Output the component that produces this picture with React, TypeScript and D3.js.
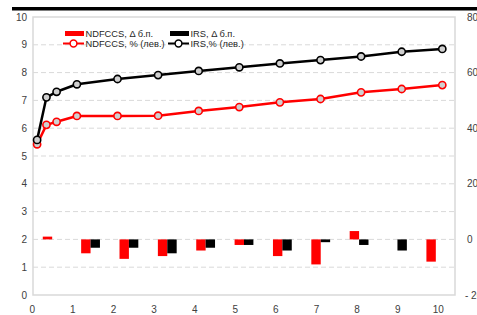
import { useEffect, useRef } from "react";
import * as d3 from "d3";

// tenor in years for the yield curves
const tenors = [0.02, 0.25, 0.5, 1, 2, 3, 4, 5, 6, 7, 8, 9, 10];
const ndfccsRate = [5.42, 6.12, 6.23, 6.44, 6.44, 6.45, 6.62, 6.76, 6.93, 7.05, 7.29, 7.41, 7.55];
const irsRate = [5.58, 7.11, 7.31, 7.58, 7.77, 7.91, 8.06, 8.19, 8.33, 8.45, 8.58, 8.75, 8.85];

// changes in b.p. (right axis)
const barCategories = ["1н", "3м", "6м", "1г", "2г", "3г", "4г", "5г", "7г", "9г", "10г"];
const ndfccsDelta = [1, -5, -7, -6, -4, -2, -6, -9, 3, 0, -8];
const irsDelta = [0, -3, -3, -5, -3, -2, -4, -1, -2, -4, 0];

const leftTicks = [0, 1, 2, 3, 4, 5, 6, 7, 8, 9, 10];
const rightTicks = [80, 60, 40, 20, 0, -20];
const xTicks = [0, 1, 2, 3, 4, 5, 6, 7, 8, 9, 10];

const RED = "#ff0000";
const BLACK = "#000000";

const App = () => {
  const svgRef = useRef<SVGSVGElement | null>(null);
  const width = 477;
  const height = 315;

  useEffect(() => {
    const svg = d3.select(svgRef.current);
    svg.selectAll("*").remove();

    const plot = { left: 33, right: 455, top: 17, bottom: 295 };
    const font = "'Liberation Sans', Arial, sans-serif";

    // title rule (title itself is cropped off)
    svg.append("rect").attr("x", 12).attr("y", 7).attr("width", width - 12).attr("height", 3.5).attr("fill", "#000");

    const x = d3.scaleLinear().domain([0, 10]).range([36.3, 442.3]);
    const yL = d3.scaleLinear().domain([0, 10]).range([plot.bottom, plot.top]);
    const yR = d3.scaleLinear().domain([-20, 80]).range([plot.bottom, plot.top]);

    // grid
    svg
      .selectAll(".grid")
      .data(leftTicks.filter((t) => t > 0 && t < 10))
      .enter()
      .append("line")
      .attr("x1", plot.left)
      .attr("x2", plot.right)
      .attr("y1", (d) => yL(d))
      .attr("y2", (d) => yL(d))
      .attr("stroke", "#d9d9d9")
      .attr("stroke-width", 1)
      .attr("stroke-dasharray", "5,3");

    svg
      .append("rect")
      .attr("x", plot.left)
      .attr("y", plot.top)
      .attr("width", plot.right - plot.left)
      .attr("height", plot.bottom - plot.top)
      .attr("fill", "none")
      .attr("stroke", "#d9d9d9")
      .attr("stroke-width", 1.5);

    // bars
    const x0 = d3.scaleBand().domain(barCategories).range([plot.left, plot.right]).padding(0);
    const x1 = d3.scaleBand().domain(["ndfccs", "irs"]).range([0, x0.bandwidth()]).paddingInner(0).paddingOuter(1.04);

    const barSeries = [
      { key: "ndfccs", values: ndfccsDelta, color: RED },
      { key: "irs", values: irsDelta, color: BLACK },
    ];
    barSeries.forEach((s) => {
      svg
        .selectAll(`.bar-${s.key}`)
        .data(s.values)
        .enter()
        .append("rect")
        .attr("class", `bar-${s.key}`)
        .attr("x", (d, i) => (x0(barCategories[i]) as number) + (x1(s.key) as number))
        .attr("y", (d) => yR(Math.max(0, d)))
        .attr("width", x1.bandwidth())
        .attr("height", (d) => Math.abs(yR(d) - yR(0)))
        .attr("fill", s.color);
    });

    // lines
    const lineSeries = [
      { key: "ndfccs", values: ndfccsRate, color: RED },
      { key: "irs", values: irsRate, color: BLACK },
    ];
    const line = d3
      .line<number>()
      .x((d, i) => x(tenors[i]))
      .y((d) => yL(d));
    lineSeries.forEach((s) => {
      svg
        .append("path")
        .datum(s.values)
        .attr("d", line)
        .attr("fill", "none")
        .attr("stroke", s.color)
        .attr("stroke-width", 2.5)
        .attr("stroke-linejoin", "round");
      svg
        .selectAll(`.pt-${s.key}`)
        .data(s.values)
        .enter()
        .append("circle")
        .attr("class", `pt-${s.key}`)
        .attr("cx", (d, i) => x(tenors[i]))
        .attr("cy", (d) => yL(d))
        .attr("r", 3.6)
        .attr("fill", "#d0d0d0")
        .attr("stroke", s.color)
        .attr("stroke-width", 1.6);
    });

    // axes labels
    const tickColor = "#404040";
    svg
      .selectAll(".yl")
      .data(leftTicks)
      .enter()
      .append("text")
      .attr("x", 27)
      .attr("y", (d) => yL(d))
      .attr("dy", "0.35em")
      .attr("text-anchor", "end")
      .attr("font-family", font)
      .attr("font-size", 10)
      .attr("fill", tickColor)
      .text((d) => d);

    svg
      .selectAll(".yr")
      .data(rightTicks)
      .enter()
      .append("text")
      .attr("x", (d) => (d < 0 ? 465 : 467))
      .attr("y", (d) => yR(d))
      .attr("dy", "0.35em")
      .attr("font-family", font)
      .attr("font-size", 10)
      .attr("fill", tickColor)
      .text((d) => (d < 0 ? `- ${Math.abs(d)}` : d));

    svg
      .selectAll(".xl")
      .data(xTicks)
      .enter()
      .append("text")
      .attr("x", (d) => x(d) - 4)
      .attr("y", 313)
      .attr("text-anchor", "middle")
      .attr("font-family", font)
      .attr("font-size", 10)
      .attr("fill", tickColor)
      .text((d) => d);

    // legend
    const legend = svg.append("g").attr("font-family", font).attr("font-size", 9.3).attr("fill", "#262626");
    const barItems = [
      { label: "NDFCCS, Δ б.п.", color: RED, x: 65 },
      { label: "IRS, Δ б.п.", color: BLACK, x: 170 },
    ];
    barItems.forEach((it) => {
      legend.append("rect").attr("x", it.x).attr("y", 31).attr("width", 19).attr("height", 5).attr("fill", it.color);
      legend.append("text").attr("x", it.x + 20.5).attr("y", 33.5).attr("dy", "0.35em").text(it.label);
    });
    const lineItems = [
      { label: "NDFCCS, % (лев.)", color: RED, x: 63 },
      { label: "IRS,% (лев.)", color: BLACK, x: 168 },
    ];
    lineItems.forEach((it) => {
      legend
        .append("line")
        .attr("x1", it.x)
        .attr("x2", it.x + 21)
        .attr("y1", 43.5)
        .attr("y2", 43.5)
        .attr("stroke", it.color)
        .attr("stroke-width", 2);
      legend
        .append("circle")
        .attr("cx", it.x + 10.5)
        .attr("cy", 43.5)
        .attr("r", 3.4)
        .attr("fill", "#fff")
        .attr("stroke", it.color)
        .attr("stroke-width", 1.5);
      legend.append("text").attr("x", it.x + 22.5).attr("y", 43.5).attr("dy", "0.35em").text(it.label);
    });
  }, []);

  return (
    <svg
      ref={svgRef}
      width={width}
      height={height}
      style={{ position: "absolute", left: 0, top: 0, background: "#fff" }}
    ></svg>
  );
};

export default App;
